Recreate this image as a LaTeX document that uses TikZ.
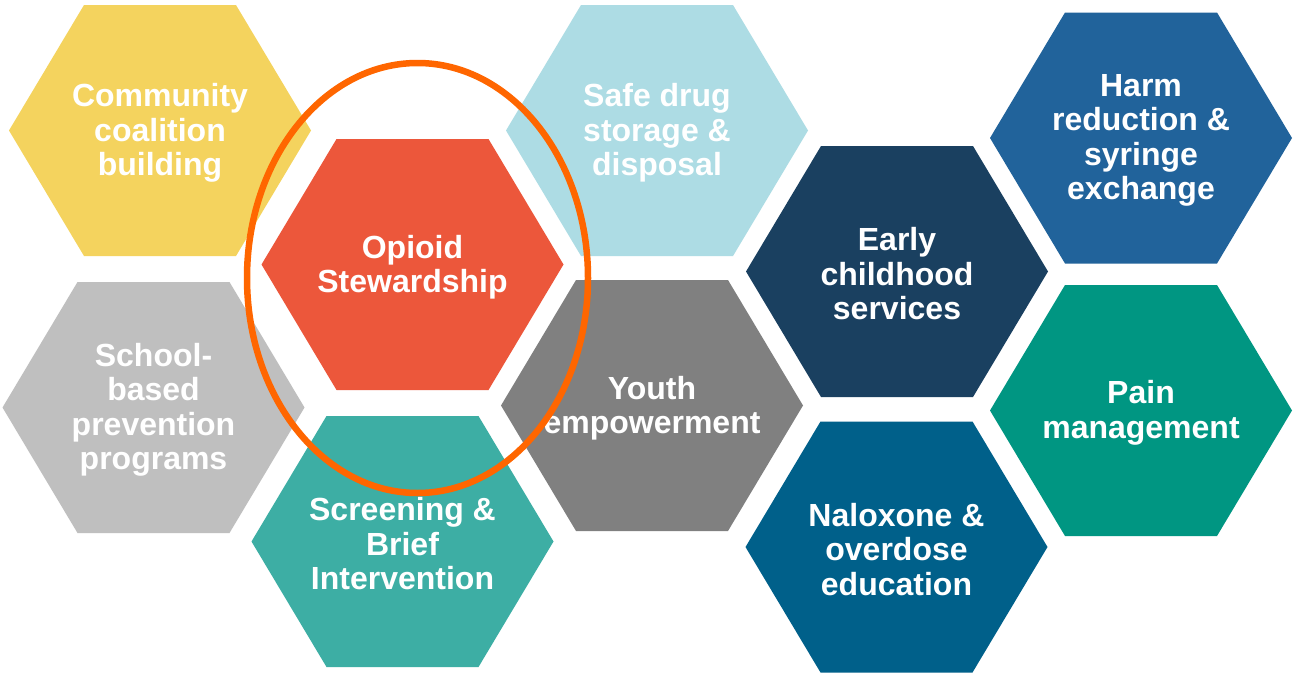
\documentclass[tikz,border=0pt]{standalone}
\usepackage{fontspec}
\setmainfont{Liberation Sans}
\usepackage{tikz}
\usetikzlibrary{positioning}

\definecolor{commyellow}{HTML}{F4D35E}
\definecolor{opioidred}{HTML}{EC573B}
\definecolor{safeblue}{HTML}{ADDCE4}
\definecolor{earlynavy}{HTML}{1A4060}
\definecolor{harmblue}{HTML}{21639B}
\definecolor{schoolgrey}{HTML}{BFBFBF}
\definecolor{youthgrey}{HTML}{808080}
\definecolor{screenteal}{HTML}{3DAEA4}
\definecolor{painteal}{HTML}{009682}
\definecolor{naloxblue}{HTML}{00608A}
\definecolor{ringorange}{HTML}{FF6600}

\begin{document}
\begin{tikzpicture}[
    x=1pt, y=-1pt,
    hexcell/.style={insert path={++(-151,0) -- ++(75,-125.5) -- ++(152,0) -- ++(75,125.5) -- ++(-75,125.5) -- ++(-152,0) -- cycle}},
    hexlabel/.style={text=white, align=center, inner sep=0pt, yshift=-2.5pt, font=\bfseries\fontsize{32}{34.5}\selectfont},
    ring/.style={draw=ringorange, line width=6.5pt},
    ]
  \fill[white] (0,0) rectangle (1293,675);

  % left column
  \fill[commyellow] (160,130.5) node[hexlabel] (comm) {Community\\coalition\\building} [hexcell];
  \fill[schoolgrey] (153.5,407.5) node[hexlabel] (school) {School-\\based\\prevention\\programs} [hexcell];

  % second column
  \fill[opioidred] (412.5,264.5) node[hexlabel] (opioid) {Opioid\\Stewardship} [hexcell];
  \fill[screenteal] (402.5,541.5) node[hexlabel] (screen) {Screening \&\\Brief\\Intervention} [hexcell];

  % third column
  \fill[safeblue] (657,130.5) node[hexlabel] (safe) {Safe drug\\storage \&\\disposal} [hexcell];
  \fill[youthgrey] (652,405.5) node[hexlabel] (youth) {Youth\\empowerment} [hexcell];

  % fourth column
  \fill[earlynavy] (897,271.5) node[hexlabel] (early) {Early\\childhood\\services} [hexcell];
  \fill[naloxblue] (896.5,547) node[hexlabel] (nalox) {Naloxone \&\\overdose\\education} [hexcell];

  % right column
  \fill[harmblue] (1141,138) node[hexlabel] (harm) {Harm\\reduction \&\\syringe\\exchange} [hexcell];
  \fill[painteal] (1141,410.5) node[hexlabel] (pain) {Pain\\management} [hexcell];

  % highlight
  \draw[ring] (417.5,278) ellipse [x radius=170.5pt, y radius=215pt];
\end{tikzpicture}
\end{document}
